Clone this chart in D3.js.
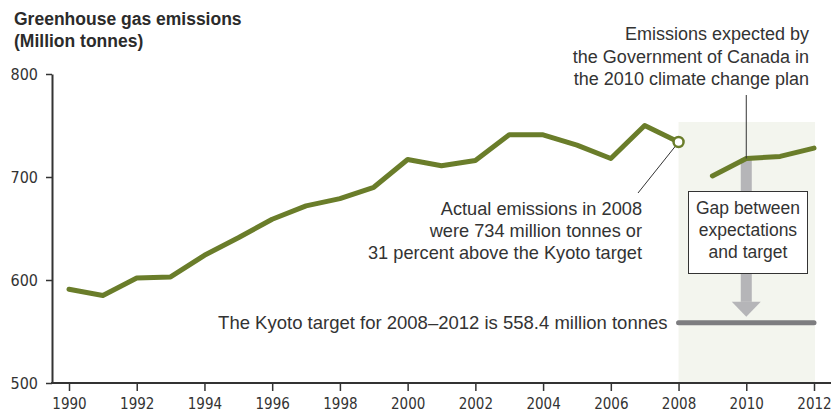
<html>
<head>
<script src="https://cdn.jsdelivr.net/npm/d3@7"></script>
<style>
  body { margin: 0; background: #fff; }
  text { fill: #333; }
</style>
</head>
<body>
<svg id="chart"></svg>
<script>
var width = 834, height = 416;

// actual emissions (Mt)
var years = [1990,1991,1992,1993,1994,1995,1996,1997,1998,1999,2000,2001,2002,2003,2004,2005,2006,2007,2008];
var actual = [591,585,602,603,624,641,659,672,679,690,717,711,716,741,741,731,718,750,734];

// expected in 2010 climate change plan
var planYears = [2009,2010,2011,2012];
var planned = [701,718,720,728];

var kyotoTarget = 558.4;
var kyotoYears = [2008, 2012];

var yTicks = [500,600,700,800];
var xTicks = [1990,1992,1994,1996,1998,2000,2002,2004,2006,2008,2010,2012];

var green = "#6a7d2a";
var narrow = "'Liberation Sans Narrow', 'DejaVu Sans Condensed', sans-serif";
var sans = "'Liberation Sans', Arial, sans-serif";

var svg = d3.select("#chart").attr("width", width).attr("height", height);

var x = d3.scaleLinear().domain([1990, 2012]).range([69, 814]);
var y = d3.scaleLinear().domain([500, 800]).range([383, 74]);

// shaded projection area
svg.append("rect")
    .attr("x", x(2008)).attr("y", 122)
    .attr("width", x(2012) + 1 - x(2008)).attr("height", y(500) - 122)
    .attr("fill", "#f3f5ee");

// title
var title = svg.append("text")
    .attr("x", 14).attr("y", 25)
    .attr("font-family", sans).attr("font-weight", "bold").attr("font-size", 17.5)
    .style("fill", "#2b2b2b");
title.append("tspan").attr("x", 14).text("Greenhouse gas emissions");
title.append("tspan").attr("x", 14).attr("dy", 22).text("(Million tonnes)");

// axes
var yAxis = d3.axisLeft(y).tickValues(yTicks).tickSize(6).tickPadding(8).tickSizeOuter(0);
var gy = svg.append("g").attr("transform", "translate(52,0)").call(yAxis);
gy.select(".domain").attr("stroke", "#333").attr("stroke-width", 2);
gy.selectAll(".tick line").attr("stroke", "#333").attr("stroke-width", 1.5);
gy.selectAll(".tick text").attr("font-family", narrow).attr("font-size", 16).style("fill", "#333");

var xAxis = d3.axisBottom(x).tickValues(xTicks).tickFormat(d3.format("d")).tickSize(8).tickPadding(7).tickSizeOuter(0);
var gx = svg.append("g").attr("transform", "translate(0,383)").call(xAxis);
gx.select(".domain").attr("d", "M51,0H831").attr("stroke", "#333").attr("stroke-width", 2);
gx.selectAll(".tick line").attr("stroke", "#333").attr("stroke-width", 1.5);
gx.selectAll(".tick text").attr("font-family", narrow).attr("font-size", 15).style("fill", "#333");

// gap bar + arrow
var gapX = x(2010);
var arrowTip = y(kyotoTarget) - 6;
svg.append("rect")
    .attr("x", gapX - 5.5).attr("y", y(718))
    .attr("width", 11).attr("height", arrowTip - 15 - y(718))
    .attr("fill", "#b5b5b8");
svg.append("path")
    .attr("d", "M" + (gapX - 14.5) + "," + (arrowTip - 15) + "L" + (gapX + 14.5) + "," + (arrowTip - 15) + "L" + gapX + "," + arrowTip + "Z")
    .attr("fill", "#b5b5b8");

// kyoto target line
svg.append("line")
    .attr("x1", x(kyotoYears[0])).attr("x2", x(kyotoYears[1]))
    .attr("y1", y(kyotoTarget)).attr("y2", y(kyotoTarget))
    .attr("stroke", "#7d7d80").attr("stroke-width", 5).attr("stroke-linecap", "round");

svg.append("text")
    .attr("x", x(2008) - 11).attr("y", y(kyotoTarget) + 6)
    .attr("text-anchor", "end")
    .attr("font-family", sans).attr("font-size", 18.5)
    .text("The Kyoto target for 2008\u20132012 is 558.4 million tonnes");

// lines
var line = d3.line().x(d => x(d[0])).y(d => y(d[1]));

svg.append("path")
    .attr("d", line(d3.zip(years, actual)))
    .attr("fill", "none").attr("stroke", green).attr("stroke-width", 5)
    .attr("stroke-linecap", "round").attr("stroke-linejoin", "round");

svg.append("path")
    .attr("d", line(d3.zip(planYears, planned)))
    .attr("fill", "none").attr("stroke", green).attr("stroke-width", 5)
    .attr("stroke-linecap", "round").attr("stroke-linejoin", "round");

// 2008 point
var last = actual[actual.length - 1];
svg.append("line")
    .attr("x1", x(2008) - 3).attr("y1", y(last) + 4)
    .attr("x2", 638).attr("y2", 193)
    .attr("stroke", "#333").attr("stroke-width", 1);
svg.append("circle")
    .attr("cx", x(2008)).attr("cy", y(last)).attr("r", 5)
    .attr("fill", "#fff").attr("stroke", green).attr("stroke-width", 2.5);

var note1 = svg.append("text")
    .attr("text-anchor", "end")
    .attr("font-family", sans).attr("font-size", 18.2);
["Actual emissions in 2008", "were 734 million tonnes or", "31 percent above the Kyoto target"].forEach(function(t, i) {
    note1.append("tspan").attr("x", 642).attr("y", 215 + i * 22).text(t);
});

// plan note
svg.append("line")
    .attr("x1", gapX).attr("x2", gapX)
    .attr("y1", 95).attr("y2", y(718))
    .attr("stroke", "#333").attr("stroke-width", 1);
var note2 = svg.append("text")
    .attr("text-anchor", "end")
    .attr("font-family", sans).attr("font-size", 18);
["Emissions expected by", "the Government of Canada in", "the 2010 climate change plan"].forEach(function(t, i) {
    note2.append("tspan").attr("x", 809).attr("y", 40 + i * 22.5).text(t);
});

// gap box
svg.append("rect")
    .attr("x", 688.5).attr("y", 191.5).attr("width", 119).attr("height", 82)
    .attr("fill", "#fff").attr("stroke", "#333").attr("stroke-width", 1);
var note3 = svg.append("text")
    .attr("text-anchor", "middle")
    .attr("font-family", sans).attr("font-size", 17.5);
["Gap between", "expectations", "and target"].forEach(function(t, i) {
    note3.append("tspan").attr("x", 748).attr("y", 214 + i * 22).text(t);
});
</script>
</body>
</html>
